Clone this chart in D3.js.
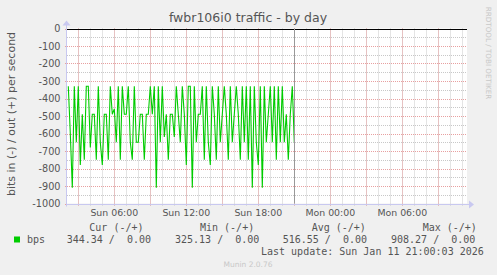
<!DOCTYPE html>
<html><head><meta charset="utf-8">
<script src="https://cdn.jsdelivr.net/npm/d3@7/dist/d3.min.js"></script>
<style>html,body{margin:0;padding:0;background:#f0f0f0;}svg{display:block;}</style>
</head><body>
<svg id="c" width="497" height="275"></svg>
<script>
// ---- data ----
const title = "fwbr106i0 traffic - by day";
const yLabel = "bits in (-) / out (+) per second";
const yTicks = [0, -100, -200, -300, -400, -500, -600, -700, -800, -900, -1000];
const seriesStart = Date.UTC(2026, 0, 11, 2, 10, 0); // Sun 02:10, 10-min steps
const stepMinutes = 10;
const bpsIn = [
  -330,-600,-910,-330,-650,-330,-780,-490,-750,-330,-330,-680,-490,-490,-750,-330,-650,-780,-490,-490,-750,-330,-490,-460,-650,-330,-750,-330,
  -490,-490,-330,-650,-750,-330,-650,-650,-490,-490,-750,-490,-490,-330,-490,-330,-910,-330,-650,-330,-620,-490,-750,-490,-490,-620,-330,-490,-650,
  -330,-490,-780,-330,-330,-910,-330,-650,-490,-490,-330,-750,-330,-650,-780,-330,-490,-750,-330,-650,-490,-330,-490,-750,-330,-650,-490,-330,-490,-750,
  -330,-650,-330,-750,-330,-910,-330,-650,-780,-330,-910,-330,-650,-490,-330,-650,-330,-750,-330,-650,-330,-650,-490,-750,-490,-330,-650
];
const legendHeaders = ["Cur (-/+)", "Min (-/+)", "Avg (-/+)", "Max (-/+)"];
const legendValues = ["344.34 /  0.00", "325.13 /  0.00", "516.55 /  0.00", "908.27 /  0.00"];
const seriesName = "bps";
const lastUpdate = "Last update: Sun Jan 11 21:00:03 2026";
const nowTime = Date.UTC(2026, 0, 11, 21, 0, 0);
const viewStart = Date.UTC(2026, 0, 11, 2, 3, 30);
const viewEnd = Date.UTC(2026, 0, 11, 11 + 24, 23, 30);

// ---- layout ----
const svg = d3.select("#c");
const L = 67, R = 467, T = 28.5, B = 203.5;
const x = d3.scaleUtc().domain([viewStart, viewEnd]).range([L, R]);
const y = d3.scaleLinear().domain([-1000, 0]).range([B, T]);
const px = v => Math.round(v) + 0.5;

svg.append("rect").attr("x", L).attr("y", T).attr("width", R - L).attr("height", B - T).attr("fill", "#fff");

const g = svg.append("g");
// minor horizontal grid every 50
d3.range(-950, 0, 100).forEach(v => {
  g.append("line").attr("x1", L).attr("x2", R).attr("y1", px(y(v))).attr("y2", px(y(v)))
   .attr("stroke", "#c8c8c8").attr("stroke-dasharray", "1,1");
});
// minor vertical grid every hour
x.ticks(d3.utcHour.every(1)).forEach(t => {
  g.append("line").attr("x1", px(x(t))).attr("x2", px(x(t))).attr("y1", T).attr("y2", B + 2)
   .attr("stroke", "#c8c8c8").attr("stroke-dasharray", "1,1");
});
// major horizontal grid
yTicks.forEach(v => {
  g.append("line").attr("x1", L - 2).attr("x2", R).attr("y1", px(y(v))).attr("y2", px(y(v)))
   .attr("stroke", "#e8a0a0").attr("stroke-dasharray", "1,1");
});
// major vertical grid every 3 hours
x.ticks(d3.utcHour.every(3)).forEach(t => {
  g.append("line").attr("x1", px(x(t))).attr("x2", px(x(t))).attr("y1", T).attr("y2", B + 3)
   .attr("stroke", "#e8a0a0").attr("stroke-dasharray", "1,1");
});

// y tick labels
yTicks.forEach(v => {
  svg.append("text").attr("x", 60.5).attr("y", y(v) + 3.5).attr("text-anchor", "end")
    .attr("font-family", "DejaVu Sans").attr("font-size", 9.7).attr("fill", "#555").text(v);
});
// x tick labels
x.ticks(d3.utcHour.every(6)).forEach(t => {
  svg.append("text").attr("x", x(t)).attr("y", 216).attr("text-anchor", "middle")
    .attr("font-family", "DejaVu Sans").attr("font-size", 9.4).attr("fill", "#555")
    .text(d3.utcFormat("%a %H:%M")(t));
});

// axes
const axisColor = "#c8c8f0";
svg.append("line").attr("x1", L - 0.5).attr("x2", R + 3).attr("y1", px(B)).attr("y2", px(B)).attr("stroke", axisColor);
svg.append("line").attr("x1", L - 0.5).attr("x2", L - 0.5).attr("y1", T - 4).attr("y2", B + 3).attr("stroke", axisColor);
svg.append("path").attr("d", `M${R + 2},${px(B) - 4}L${R + 7},${px(B)}L${R + 2},${px(B) + 4}Z`).attr("fill", axisColor);
svg.append("path").attr("d", `M${L - 4.5},${T - 3}L${L - 0.5},${T - 8}L${L + 3.5},${T - 3}Z`).attr("fill", axisColor);

// data line
const line = d3.line().x((d, i) => x(seriesStart + i * stepMinutes * 60000)).y(d => y(d));
svg.append("path").datum(bpsIn).attr("d", line).attr("fill", "none").attr("stroke", "#00cc00").attr("stroke-width", 1.1);

// zero line
svg.append("line").attr("x1", L).attr("x2", R).attr("y1", px(y(0))).attr("y2", px(y(0))).attr("stroke", "#000").attr("stroke-width", 1);
// now line
svg.append("line").attr("x1", px(x(nowTime))).attr("x2", px(x(nowTime))).attr("y1", T).attr("y2", B).attr("stroke", "#999");

// title
svg.append("text").attr("x", 248).attr("y", 22).attr("text-anchor", "middle")
  .attr("font-family", "DejaVu Sans").attr("font-size", 12.5).attr("fill", "#555").text(title);
// y label
svg.append("text").attr("transform", "translate(14.5,114) rotate(-90)").attr("text-anchor", "middle")
  .attr("font-family", "DejaVu Sans").attr("font-size", 11).attr("fill", "#555").text(yLabel);
// rrdtool credit
svg.append("text").attr("transform", "translate(486,53) rotate(90)").attr("text-anchor", "middle")
  .attr("font-family", "DejaVu Sans").attr("font-size", 7.2).attr("fill", "#c8c8c8").text("RRDTOOL / TOBI OETIKER");

// legend
const mono = "DejaVu Sans Mono";
const headX = [89.3, 200, 311.7, 422.7];
const valX = [66.7, 175, 282.7, 391];
legendHeaders.forEach((h, i) => {
  svg.append("text").attr("x", headX[i]).attr("y", 231).attr("font-family", mono).attr("font-size", 10)
    .attr("fill", "#555").style("white-space", "pre").text(h);
});
legendValues.forEach((v, i) => {
  svg.append("text").attr("x", valX[i]).attr("y", 243).attr("font-family", mono).attr("font-size", 10)
    .attr("fill", "#555").style("white-space", "pre").text(v);
});
svg.append("rect").attr("x", 14).attr("y", 236.5).attr("width", 6).attr("height", 6).attr("fill", "#00cc00");
svg.append("text").attr("x", 27).attr("y", 243).attr("font-family", mono).attr("font-size", 10).attr("fill", "#555").text(seriesName);
svg.append("text").attr("x", 261).attr("y", 255).attr("font-family", mono).attr("font-size", 10)
  .attr("fill", "#555").style("white-space", "pre").text(lastUpdate);
svg.append("text").attr("x", 248).attr("y", 267).attr("text-anchor", "middle").attr("font-family", "DejaVu Sans")
  .attr("font-size", 7.5).attr("fill", "#c8c8c8").text("Munin 2.0.76");
</script>
</body></html>
